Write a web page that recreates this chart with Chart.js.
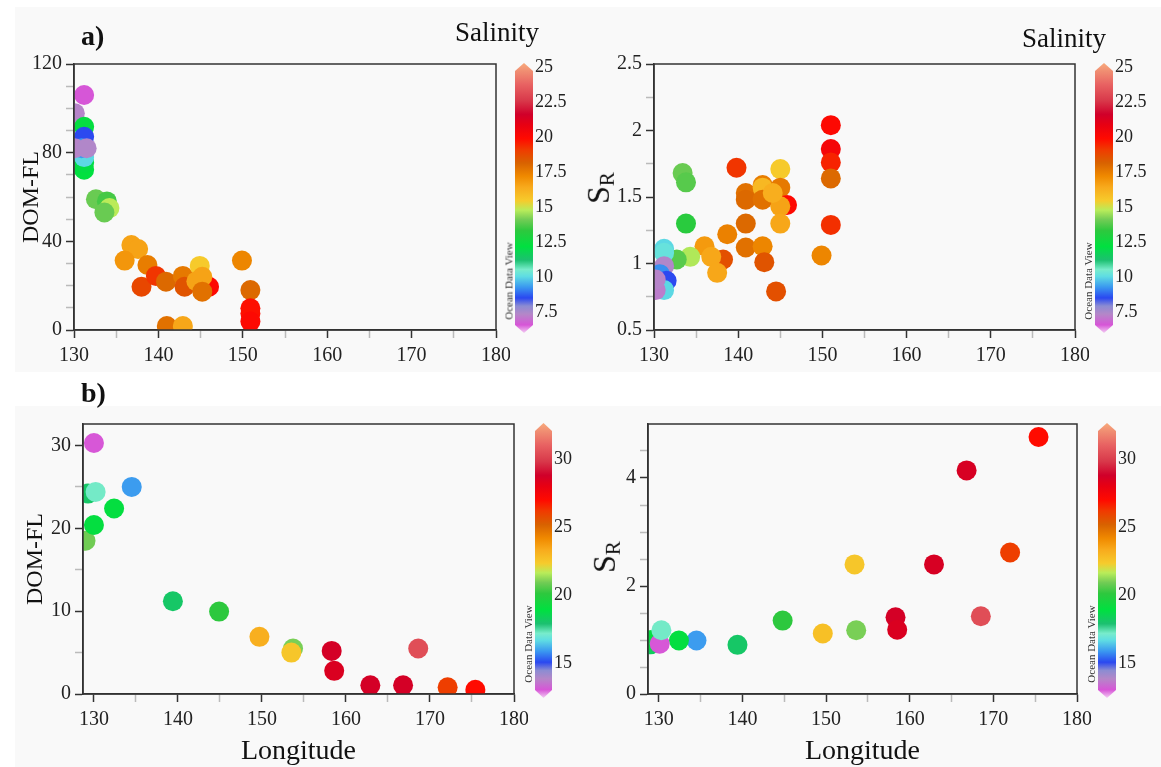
<!DOCTYPE html>
<html>
<head>
<meta charset="utf-8">
<script src="https://cdn.jsdelivr.net/npm/chart.js@4/dist/chart.umd.min.js"></script>
<style>
  body { margin: 0; background: #fff; }
  #page { position: relative; width: 1161px; height: 767px; overflow: hidden; font-family: "Liberation Serif", "Times New Roman", serif; color: #111; }
  .bg { position: absolute; background: #f9f9f9; }
  canvas { position: absolute; }
  .txt { position: absolute; line-height: 1; white-space: nowrap; }
  .rot { position: absolute; line-height: 1; white-space: nowrap; transform: translate(-50%, -50%) rotate(-90deg); }
</style>
</head>
<body>
<div id="page">
  <div class="bg" style="left:15px;top:7px;width:1146px;height:365px"></div>
  <div class="bg" style="left:15px;top:406px;width:1146px;height:361px"></div>

  <canvas id="domA"></canvas>
  <canvas id="srA"></canvas>
  <canvas id="domB"></canvas>
  <canvas id="srB"></canvas>
  <canvas id="cbA1"></canvas>
  <canvas id="cbA2"></canvas>
  <canvas id="cbB1"></canvas>
  <canvas id="cbB2"></canvas>

  <div class="txt" style="left:81px;top:22px;font-size:28px;font-weight:bold">a)</div>
  <div class="txt" style="left:81px;top:379px;font-size:28px;font-weight:bold">b)</div>
  <div class="txt" style="left:455px;top:19px;font-size:27px">Salinity</div>
  <div class="txt" style="left:1022px;top:25px;font-size:27px">Salinity</div>

  <div class="rot" style="left:600px;top:188px;font-size:32px">S<sub style="font-size:21px;vertical-align:-0.25em">R</sub></div>
  <div class="rot" style="left:606px;top:557px;font-size:32px">S<sub style="font-size:21px;vertical-align:-0.25em">R</sub></div>

  <div class="rot" style="left:509px;top:281px;font-size:11px;color:#333">Ocean Data View</div>
  <div class="rot" style="left:1088px;top:281px;font-size:11px;color:#333">Ocean Data View</div>
  <div class="rot" style="left:528px;top:644px;font-size:11px;color:#333">Ocean Data View</div>
  <div class="rot" style="left:1091px;top:644px;font-size:11px;color:#333">Ocean Data View</div>
</div>

<script>
// ---- data ----
// a) DOM-FL vs longitude, coloured by salinity
const lonA1 = [131.2, 130.1, 131.2, 131.2, 131.2, 131.2, 131.2, 130.9, 130.1, 131.5,
               132.6, 133.9, 134.2, 133.6, 136.8, 137.6, 136.0, 138.7, 138.0, 139.7,
               140.9, 142.9, 143.1, 146.0, 144.9, 144.5, 145.2, 145.2, 141.0, 142.9,
               149.9, 150.9, 150.9, 150.9, 150.9];
const domA  = [106, 97.8, 91.7, 87.2, 72.3, 75.5, 78, 82, 82, 82,
               59, 58, 55, 53, 38.3, 36.5, 31.3, 29.3, 19.5, 24.4,
               21.8, 24.4, 19.5, 19.5, 28.9, 22, 24, 17.3, 1.8, 1.8,
               31.3, 18, 9.8, 7.5, 3.8];
const salA1 = [6.6, 7.3, 12.3, 8.5, 12.2, 12.1, 10.0, 9.3, 7.3, 7.4,
               14.0, 13.6, 14.8, 14.0, 16.6, 16.6, 16.9, 17.5, 18.8, 19.2,
               18.0, 17.6, 18.5, 20.0, 15.5, 16.6, 16.6, 17.8, 17.8, 16.5,
               17.3, 18.0, 19.8, 19.8, 20.0];

// a) S_R vs longitude
const lonA2 = [151.0, 151.0, 151.0, 151.0, 151.0, 149.9, 139.8, 145.0, 133.4, 133.8,
               133.8, 140.9, 140.9, 142.9, 142.9, 142.9, 145.0, 145.8, 145.0, 144.1,
               145.0, 140.9, 140.9, 142.9, 143.1, 144.5, 138.7, 138.2, 136.0, 136.8,
               137.5, 134.3, 132.7, 131.2, 131.2, 131.2, 130.7, 131.5, 131.2, 130.2, 130.2];
const srA   = [2.04, 1.86, 1.76, 1.64, 1.29, 1.06, 1.72, 1.71, 1.68, 1.61,
               1.30, 1.53, 1.48, 1.59, 1.57, 1.48, 1.57, 1.44, 1.43, 1.53,
               1.30, 1.30, 1.12, 1.13, 1.01, 0.79, 1.22, 1.03, 1.13, 1.05,
               0.93, 1.05, 1.03, 1.11, 1.08, 0.98, 0.92, 0.87, 0.80, 0.80, 0.88];
const salA2 = [20.0, 20.3, 19.5, 18.0, 19.3, 17.3, 19.2, 15.5, 14.0, 13.8,
               13.2, 17.8, 18.0, 17.5, 16.0, 17.8, 17.6, 20.0, 16.6, 16.3,
               16.5, 18.0, 17.8, 17.3, 18.5, 18.6, 17.4, 18.6, 16.8, 16.5,
               16.5, 14.7, 13.8, 10.0, 10.2, 7.4, 9.2, 8.5, 10.0, 7.2, 7.3];

// b) DOM-FL vs longitude
const lonB1 = [130.0, 129.3, 130.2, 134.5, 132.4, 129.0, 130.0, 139.4, 144.9, 149.7,
               153.7, 153.5, 158.3, 158.6, 162.9, 166.8, 168.6, 172.1, 175.4];
const domB  = [30.3, 24.2, 24.4, 25.0, 22.4, 18.5, 20.4, 11.2, 9.95, 6.9,
               5.5, 5.0, 5.2, 2.8, 1.05, 1.05, 5.5, 0.8, 0.5];
const salB1 = [13.0, 18.1, 17.2, 15.9, 19.0, 20.9, 19.0, 18.1, 20.1, 23.2,
               21.0, 22.5, 28.7, 28.5, 28.7, 28.7, 30.5, 26.1, 27.0];

// b) S_R vs longitude
const lonB2 = [175.4, 166.8, 172.0, 162.9, 153.4, 168.5, 158.3, 158.5, 144.8, 153.6,
               149.6, 139.4, 134.5, 132.4, 129.0, 129.1, 130.1, 130.3];
const srB   = [4.76, 4.14, 2.62, 2.40, 2.40, 1.44, 1.42, 1.19, 1.36, 1.18,
               1.12, 0.91, 0.99, 0.99, 0.92, 1.00, 0.93, 1.18];
const salB2 = [27.0, 28.6, 26.1, 28.6, 22.5, 30.5, 28.7, 28.5, 20.1, 21.0,
               22.7, 18.1, 15.9, 19.0, 18.3, 19.0, 13.0, 17.2];

// ticks
const xTicks    = [130, 135, 140, 145, 150, 155, 160, 165, 170, 175, 180];
const domATicks = [0, 10, 20, 30, 40, 50, 60, 70, 80, 90, 100, 110, 120];
const srATicks  = [0.5, 0.75, 1, 1.25, 1.5, 1.75, 2, 2.25, 2.5];
const domBTicks = [0, 5, 10, 15, 20, 25, 30];
const srBTicks  = [0, 0.5, 1, 1.5, 2, 2.5, 3, 3.5, 4, 4.5];
const salTicksA = [7.5, 10, 12.5, 15, 17.5, 20, 22.5, 25];
const salTicksB = [15, 20, 25, 30];
const salRangeA = [6.0, 25.3];
const salRangeB = [12.4, 32.7];

// ODV-like palette
const palette = [
  [0.00, '#f3cdf3'], [0.03, '#d755d7'], [0.07, '#b487c8'], [0.10, '#8c8cd2'],
  [0.13, '#2a48f0'], [0.17, '#3a98f0'], [0.21, '#5fdde3'], [0.235, '#78eccb'],
  [0.27, '#1cc070'], [0.32, '#00e040'], [0.38, '#2ec83e'], [0.42, '#72cc55'],
  [0.455, '#b9ec5a'], [0.49, '#f6cb2c'], [0.54, '#f8aa1c'], [0.58, '#f08a00'],
  [0.63, '#d86200'], [0.68, '#f03a00'], [0.72, '#ff0a00'], [0.77, '#e80012'],
  [0.81, '#d0002a'], [0.86, '#d8384a'], [0.92, '#e86262'], [0.97, '#f08e72'],
  [1.00, '#f8aa7c']
];

const serif = '"Liberation Serif", "Times New Roman", serif';

function hexRgb(h) {
  return [parseInt(h.slice(1, 3), 16), parseInt(h.slice(3, 5), 16), parseInt(h.slice(5, 7), 16)];
}
function colorFor(v, range) {
  let t = (v - range[0]) / (range[1] - range[0]);
  t = Math.max(0, Math.min(1, t));
  for (let i = 1; i < palette.length; i++) {
    if (t <= palette[i][0]) {
      const a = palette[i - 1], b = palette[i];
      const f = (t - a[0]) / (b[0] - a[0]);
      const ca = hexRgb(a[1]), cb = hexRgb(b[1]);
      const c = ca.map((x, k) => Math.round(x + (cb[k] - x) * f));
      return 'rgb(' + c.join(',') + ')';
    }
  }
  return palette[palette.length - 1][1];
}

const isMajor = (v, every) => Math.abs(v / every - Math.round(v / every)) < 1e-6;

const framePlugin = {
  id: 'frame',
  afterDraw(chart) {
    const a = chart.chartArea, c = chart.ctx;
    c.save();
    c.strokeStyle = '#333';
    c.lineWidth = 1.5;
    c.strokeRect(a.left, a.top, a.right - a.left, a.bottom - a.top);
    c.restore();
  }
};

function place(cv, left, top, w, h) {
  cv.width = w; cv.height = h;
  cv.style.left = left + 'px'; cv.style.top = top + 'px';
  cv.style.width = w + 'px'; cv.style.height = h + 'px';
}

function scatter(id, p) {
  const cv = document.getElementById(id);
  const [L, T, R, B] = p.plot;
  place(cv, L - p.ml, T - p.mt, p.ml + (R - L) + p.mr, p.mt + (B - T) + p.mb);
  const pts = p.xs.map((x, i) => ({ x: x, y: p.ys[i] }));
  const tickCol = every => c => (c.tick && !isMajor(c.tick.value, every)) ? '#bbb' : '#333';
  return new Chart(cv, {
    type: 'scatter',
    data: {
      datasets: [{
        data: pts,
        backgroundColor: p.sal.map(s => colorFor(s, p.range)),
        borderWidth: 0,
        pointRadius: 10,
        pointHoverRadius: 10,
        clip: 0
      }]
    },
    options: {
      responsive: false,
      animation: false,
      events: [],
      layout: { padding: { top: p.mt, right: p.mr, left: 0, bottom: 0 } },
      plugins: { legend: { display: false }, tooltip: { enabled: false } },
      scales: {
        x: {
          type: 'linear', min: p.xMin, max: 180,
          afterBuildTicks: s => { s.ticks = xTicks.map(v => ({ value: v })); },
          afterFit: s => { s.height = p.mb; s.paddingLeft = 0; s.paddingRight = 0; },
          ticks: { autoSkip: false, maxRotation: 0, padding: 6, color: '#222',
                   font: { family: serif, size: 20 },
                   callback: v => isMajor(v, 10) ? String(v) : '' },
          grid: { drawOnChartArea: false, tickLength: 8, tickWidth: 1.5, tickColor: tickCol(10) },
          border: { color: '#333', width: 1.5 },
          title: { display: !!p.xTitle, text: p.xTitle || '', color: '#111',
                   font: { family: serif, size: 28 }, padding: { top: 0, bottom: 0 } }
        },
        y: {
          type: 'linear', min: p.yMin, max: p.yMax,
          afterBuildTicks: s => { s.ticks = p.yTicks.map(v => ({ value: v })); },
          afterFit: s => { s.width = p.ml; s.paddingTop = 0; s.paddingBottom = 0; },
          ticks: { autoSkip: false, padding: 4, color: '#222',
                   font: { family: serif, size: 20 },
                   callback: v => isMajor(v, p.yEvery) ? String(v) : '' },
          grid: { drawOnChartArea: false, tickLength: 8, tickWidth: 1.5, tickColor: tickCol(p.yEvery) },
          border: { color: '#333', width: 1.5 },
          title: { display: !!p.yTitle, text: p.yTitle || '', color: '#111',
                   font: { family: serif, size: 24 }, padding: { top: 0, bottom: 0 } }
        }
      }
    },
    plugins: [framePlugin]
  });
}

const cbShape = {
  id: 'cbShape',
  beforeDatasetsDraw(chart) {
    const a = chart.chartArea, c = chart.ctx, tip = 8, mx = (a.left + a.right) / 2;
    c.save();
    c.beginPath();
    c.moveTo(mx, a.top);
    c.lineTo(a.right, a.top + tip);
    c.lineTo(a.right, a.bottom - tip);
    c.lineTo(mx, a.bottom);
    c.lineTo(a.left, a.bottom - tip);
    c.lineTo(a.left, a.top + tip);
    c.closePath();
    c.clip();
  },
  afterDatasetsDraw(chart) { chart.ctx.restore(); }
};

function colorbar(id, p) {
  const cv = document.getElementById(id);
  const [L, T, R, B] = p.bar;
  const pad = 12, lab = 45;
  place(cv, L, T - pad, (R - L) + lab, (B - T) + 2 * pad);
  return new Chart(cv, {
    type: 'bar',
    data: {
      labels: [''],
      datasets: [{
        data: [[p.range[0], p.range[1]]],
        barPercentage: 1, categoryPercentage: 1, borderWidth: 0,
        backgroundColor: c => {
          const a = c.chart.chartArea;
          if (!a) return '#ccc';
          const g = c.chart.ctx.createLinearGradient(0, a.bottom, 0, a.top);
          palette.forEach(s => g.addColorStop(s[0], s[1]));
          return g;
        }
      }]
    },
    options: {
      responsive: false, animation: false, events: [],
      layout: { padding: { top: pad, bottom: pad, left: 0, right: 0 } },
      plugins: { legend: { display: false }, tooltip: { enabled: false } },
      scales: {
        x: { display: false },
        y: {
          position: 'right', min: p.range[0], max: p.range[1],
          afterBuildTicks: s => { s.ticks = p.ticks.map(v => ({ value: v })); },
          afterFit: s => { s.width = lab; s.paddingTop = 0; s.paddingBottom = 0; },
          ticks: { padding: 2, color: '#222', font: { family: serif, size: 18 }, callback: v => String(v) },
          grid: { display: false, drawTicks: false },
          border: { display: false }
        }
      }
    },
    plugins: [cbShape]
  });
}

scatter('domA', { plot: [74, 64, 496, 330], ml: 57, mt: 20, mr: 14, mb: 40,
  xs: lonA1, ys: domA, sal: salA1, range: salRangeA, xMin: 130,
  yMin: 0, yMax: 120, yTicks: domATicks, yEvery: 40, yTitle: 'DOM-FL' });
scatter('srA', { plot: [654, 64, 1075, 330], ml: 60, mt: 20, mr: 14, mb: 40,
  xs: lonA2, ys: srA, sal: salA2, range: salRangeA, xMin: 130,
  yMin: 0.5, yMax: 2.5, yTicks: srATicks, yEvery: 0.5 });
scatter('domB', { plot: [83, 424, 514, 694], ml: 62, mt: 20, mr: 14, mb: 74,
  xs: lonB1, ys: domB, sal: salB1, range: salRangeB, xMin: 128.7,
  yMin: 0, yMax: 32.6, yTicks: domBTicks, yEvery: 10, yTitle: 'DOM-FL', xTitle: 'Longitude' });
scatter('srB', { plot: [648, 424, 1077, 694], ml: 60, mt: 20, mr: 14, mb: 74,
  xs: lonB2, ys: srB, sal: salB2, range: salRangeB, xMin: 128.7,
  yMin: 0, yMax: 5, yTicks: srBTicks, yEvery: 2, xTitle: 'Longitude' });

colorbar('cbA1', { bar: [515, 63, 533, 333], range: salRangeA, ticks: salTicksA });
colorbar('cbA2', { bar: [1095, 63, 1113, 333], range: salRangeA, ticks: salTicksA });
colorbar('cbB1', { bar: [535, 423, 552, 698], range: salRangeB, ticks: salTicksB });
colorbar('cbB2', { bar: [1098, 423, 1116, 698], range: salRangeB, ticks: salTicksB });
</script>
</body>
</html>
